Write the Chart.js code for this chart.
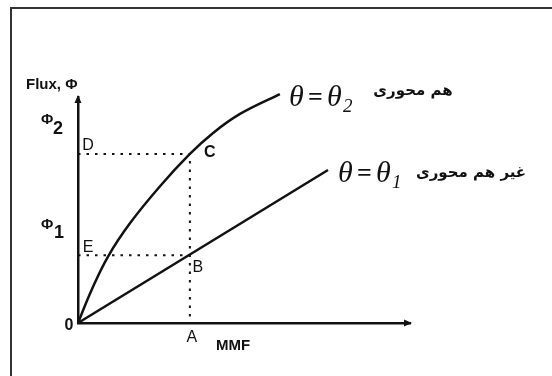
<!DOCTYPE html>
<html>
<head>
<meta charset="utf-8">
<script src="https://cdn.jsdelivr.net/npm/chart.js@4"></script>
<style>
  html, body { margin: 0; padding: 0; background: #fff; overflow: hidden; }
  #wrap { position: relative; width: 552px; height: 376px; }
  #frame {
    position: absolute; left: 10px; top: 7px; width: 600px; height: 420px;
    border: 2.5px solid #333; box-sizing: border-box; pointer-events: none;
  }
</style>
</head>
<body>
<div id="wrap">
  <canvas id="chart" width="552" height="376"></canvas>
  <div id="frame"></div>
</div>
<script>
// Magnetisation curves: flux against MMF for two rotor angles
const curveX = [0, 0.41, 0.90, 1.57, 2.47, 3.37, 4.07, 4.88, 6.08];
const curveY = [0, 1.46, 2.93, 4.42, 6.05, 7.48, 8.41, 9.25, 10.13];
const lineX = [0, 7.53];
const lineY = [0, 6.77];

// guide points: A on MMF axis, D / E flux levels
const mmfA = 3.37;
const fluxD = 7.48;
const fluxE = 3.0;

const xMax = 10;
const yMax = 10;

const INK = '#111';

function pts(xs, ys) {
    return xs.map((x, i) => ({ x: x, y: ys[i] }));
}

// arrowheads and text labels
const annotate = {
    id: 'annotate',
    afterDatasetsDraw(chart) {
        const { ctx, chartArea: a, scales } = chart;
        const px = v => scales.x.getPixelForValue(v);
        const py = v => scales.y.getPixelForValue(v);
        ctx.save();
        ctx.fillStyle = INK;

        // axis arrows
        ctx.beginPath();
        ctx.moveTo(a.right + 2, a.bottom);
        ctx.lineTo(a.right - 6, a.bottom - 3.5);
        ctx.lineTo(a.right - 6, a.bottom + 3.5);
        ctx.closePath();
        ctx.fill();
        ctx.beginPath();
        ctx.moveTo(a.left, a.top - 2);
        ctx.lineTo(a.left - 3.5, a.top + 6);
        ctx.lineTo(a.left + 3.5, a.top + 6);
        ctx.closePath();
        ctx.fill();

        const text = (s, x, y, font, align, base) => {
            ctx.font = font;
            ctx.textAlign = align || 'center';
            ctx.textBaseline = base || 'middle';
            ctx.fillText(s, x, y);
        };
        const sans = '"Liberation Sans", Arial, sans-serif';

        text('Flux, \u03A6', 26, 85, 'bold 15px ' + sans, 'left');
        text('\u03A6', 41, 120, 'bold 15px ' + sans, 'left');
        text('2', 53, 129, 'bold 18px ' + sans, 'left');
        text('\u03A6', 41, 225, 'bold 15px ' + sans, 'left');
        text('1', 54, 233, 'bold 18px ' + sans, 'left');

        text('D', px(0) + 10, py(fluxD) - 8, '16px ' + sans);
        text('E', px(0) + 10, py(fluxE) - 8, '16px ' + sans);
        text('C', px(mmfA) + 20, py(fluxD) - 1, 'bold 16px ' + sans);
        text('B', px(mmfA) + 8, py(fluxE) + 12, '16px ' + sans);
        text('A', px(mmfA) + 2, py(0) + 15, '16px ' + sans);
        text('0', px(0) - 9, py(0) + 3, 'bold 16px ' + sans);
        text('MMF', 233, 346, 'bold 15px ' + sans);

        // curve labels: theta = theta_n
        const serif = '"Liberation Serif", "Times New Roman", serif';
        const thetaLabel = (x, base, sub) => {
            ctx.textAlign = 'left';
            ctx.textBaseline = 'alphabetic';
            ctx.font = 'italic 30px ' + serif;
            ctx.fillText('\u03B8', x, base);
            ctx.font = 'bold 26px ' + serif;
            ctx.fillText('=', x + 19, base - 1);
            ctx.font = 'italic 30px ' + serif;
            ctx.fillText('\u03B8', x + 38, base);
            ctx.font = 'italic 19px ' + serif;
            ctx.fillText(sub, x + 54, base + 6);
        };
        thetaLabel(289, 106, '2');
        thetaLabel(338, 182, '1');

        text('هم محوری', 413, 91, 'bold 15px "DejaVu Sans", sans-serif');
        text('غیر هم محوری', 471, 173, 'bold 15px "DejaVu Sans", sans-serif');
        ctx.restore();
    }
};

const guide = {
    borderColor: INK,
    borderWidth: 2,
    borderDash: [2.5, 6],
    pointRadius: 0,
    tension: 0,
    fill: false
};

new Chart(document.getElementById('chart'), {
    type: 'line',
    data: {
        datasets: [{
            label: 'theta2',
            data: pts(curveX, curveY),
            borderColor: INK,
            borderWidth: 2.5,
            pointRadius: 0,
            tension: 0.4,
            fill: false
        }, {
            label: 'theta1',
            data: pts(lineX, lineY),
            borderColor: INK,
            borderWidth: 2.5,
            pointRadius: 0,
            fill: false
        }, Object.assign({
            label: 'D-C-A',
            data: [{ x: 0, y: fluxD }, { x: mmfA, y: fluxD }, { x: mmfA, y: 0 }]
        }, guide), Object.assign({
            label: 'E-B',
            data: [{ x: 0, y: fluxE }, { x: mmfA, y: fluxE }]
        }, guide)]
    },
    options: {
        responsive: false,
        animation: false,
        clip: false,
        layout: { padding: { left: 78, right: 142, top: 97, bottom: 53 } },
        plugins: { legend: { display: false }, tooltip: { enabled: false } },
        scales: {
            x: {
                type: 'linear', min: 0, max: xMax,
                grid: { display: false, drawTicks: false },
                ticks: { display: false },
                border: { display: true, color: INK, width: 2.5 },
                afterFit: s => { s.height = 0; }
            },
            y: {
                type: 'linear', min: 0, max: yMax,
                grid: { display: false, drawTicks: false },
                ticks: { display: false },
                border: { display: true, color: INK, width: 2.5 },
                afterFit: s => { s.width = 0; }
            }
        }
    },
    plugins: [annotate]
});
</script>
</body>
</html>
